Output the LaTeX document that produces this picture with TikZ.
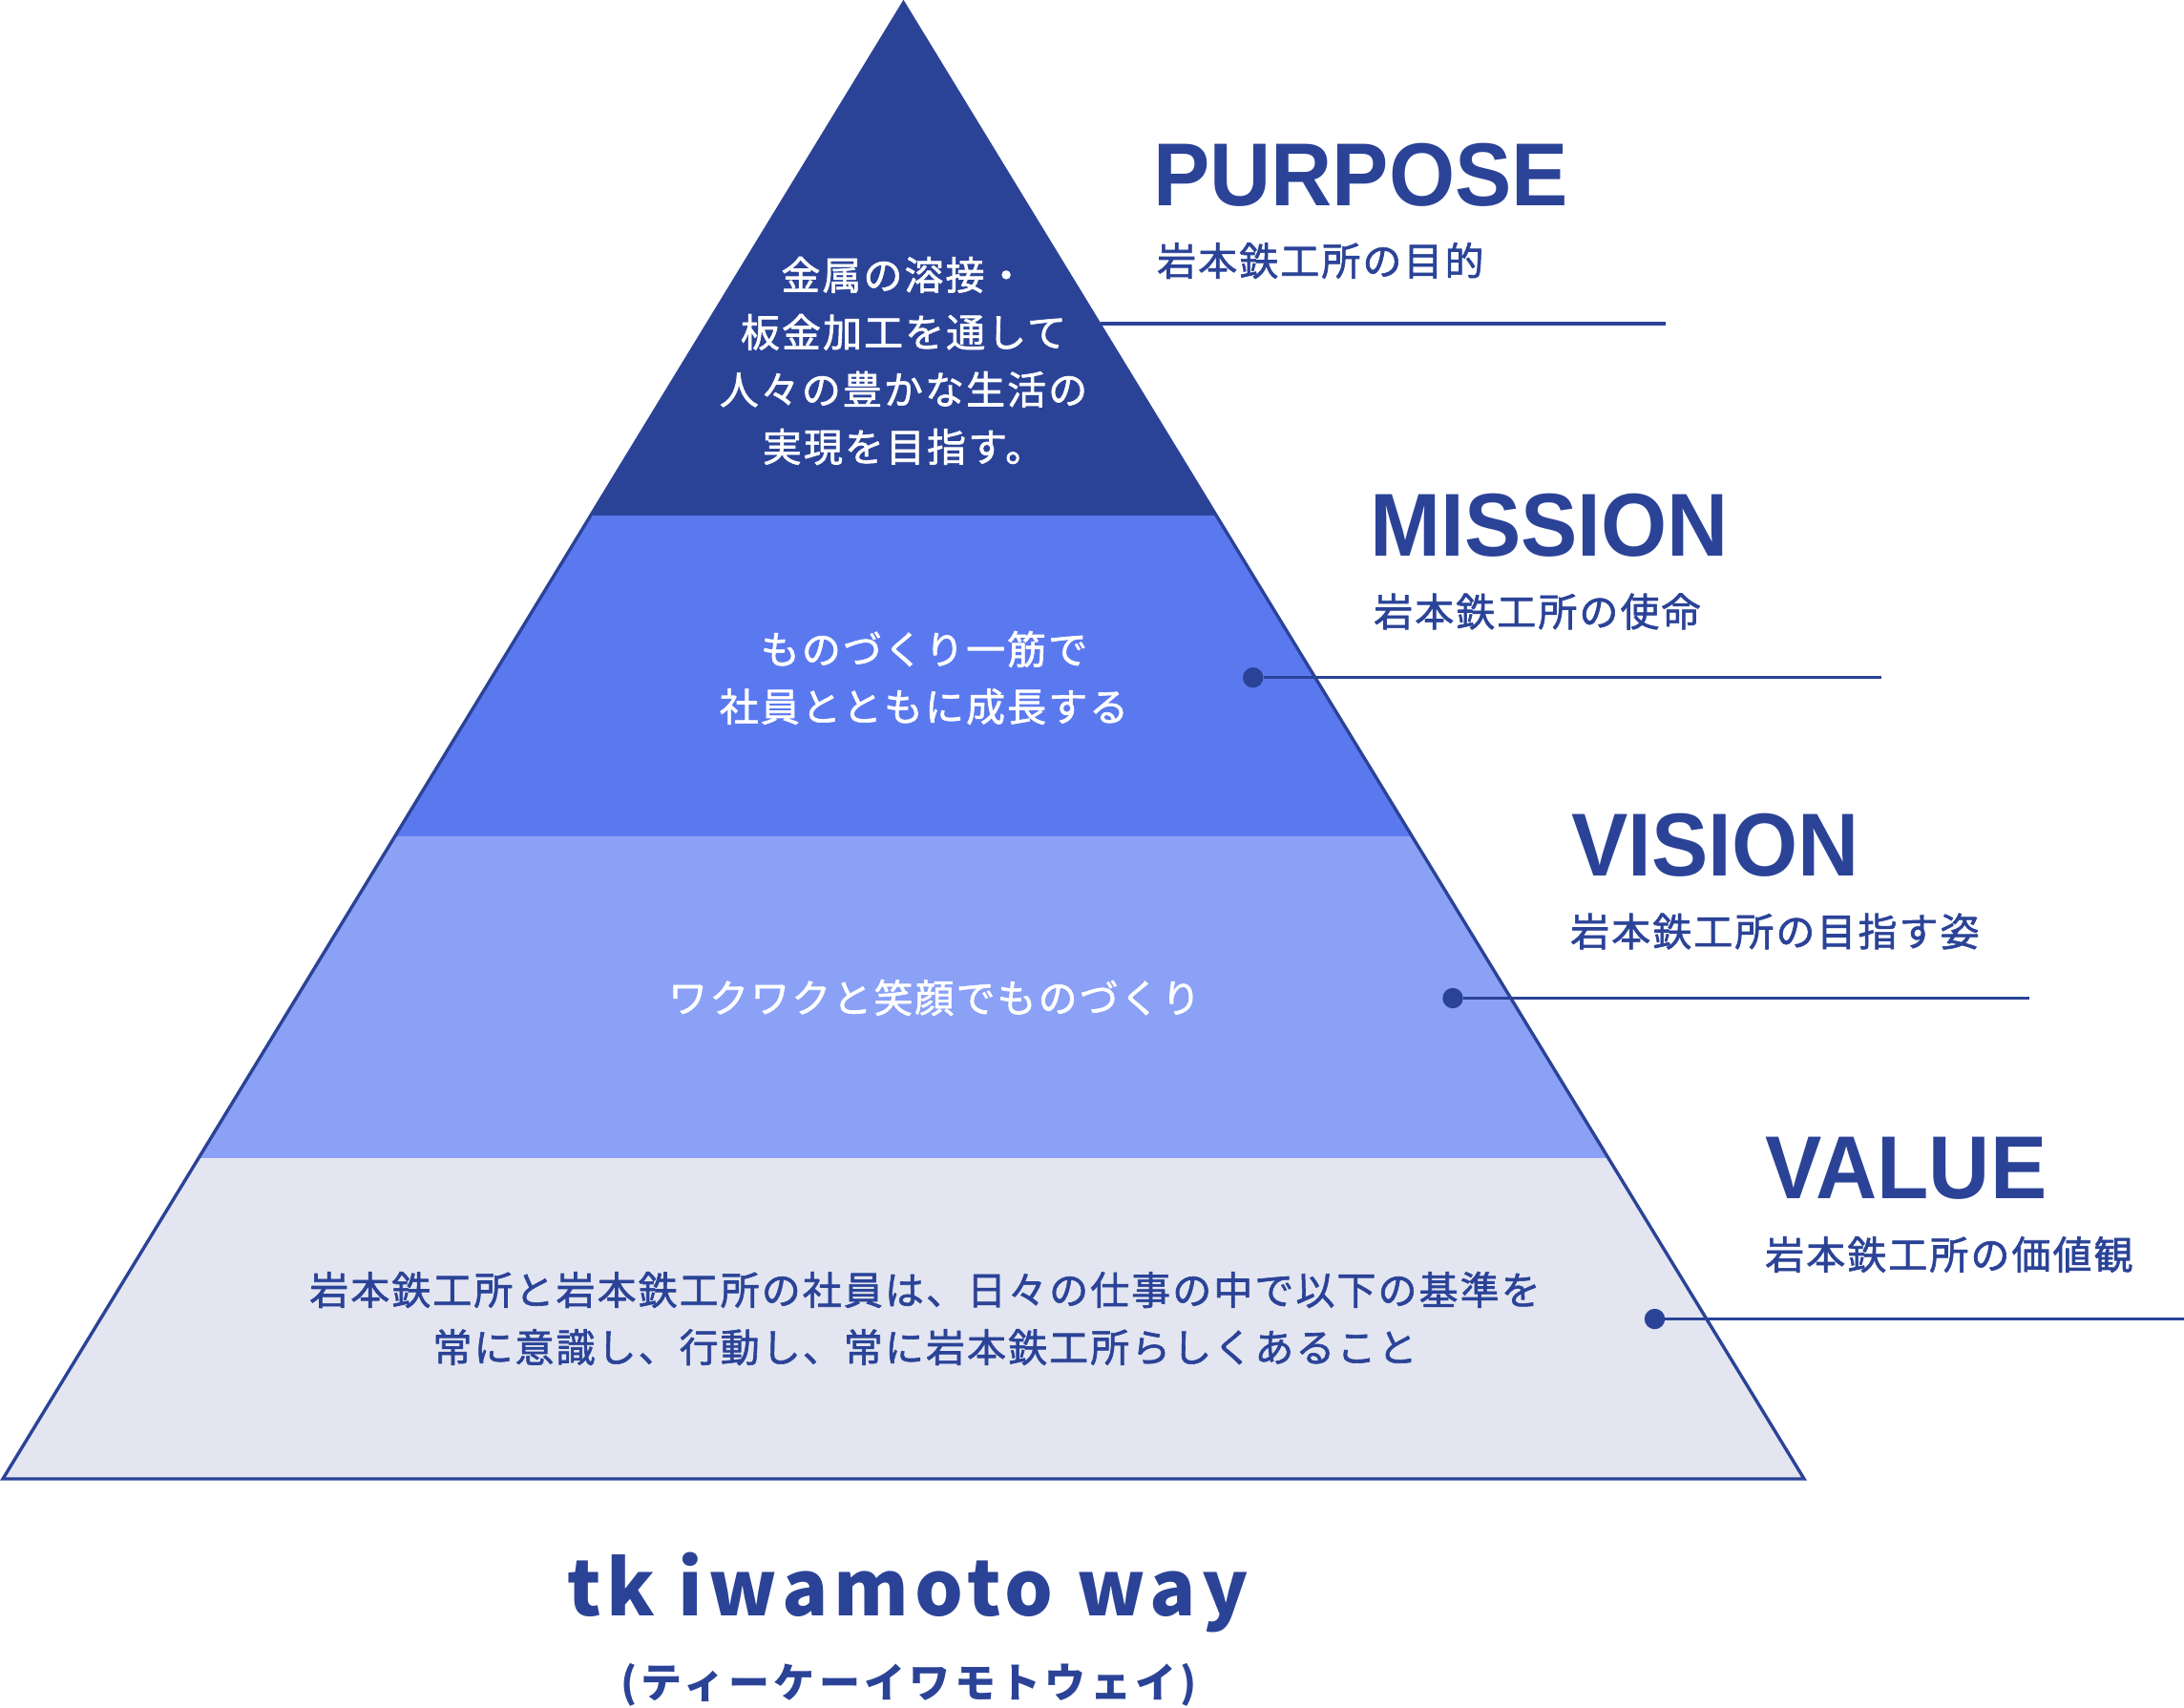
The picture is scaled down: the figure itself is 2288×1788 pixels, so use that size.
\documentclass[tikz,border=0pt]{standalone}
\usepackage{fontspec}
\setmainfont{Liberation Sans}
\newfontfamily\headfont[FakeStretch=0.95]{Liberation Sans}
\newfontfamily\jpfont[LetterSpace=5,FakeBold=1.5]{Noto Sans CJK JP}
\newfontfamily\wayfont[LetterSpace=7.5]{Noto Sans CJK JP}
\newfontfamily\kanafont[LetterSpace=10]{Noto Sans CJK JP}
\definecolor{navy}{RGB}{43,67,151}
\definecolor{midblue}{RGB}{91,121,239}
\definecolor{lightblue}{RGB}{138,161,246}
\definecolor{paleblue}{RGB}{227,230,241}
\begin{document}
\begin{tikzpicture}[x=1pt,y=-1pt,line join=round,line cap=round]
	\tikzset{head/.style={anchor=west,inner sep=0,text=navy,font=\headfont\bfseries\fontsize{93.6}{100}\selectfont},
		sub/.style={anchor=west,inner sep=0,text=navy,font=\jpfont\fontsize{41}{60}\selectfont},
		inner/.style={inner sep=0,align=center,text=white,font=\jpfont\fontsize{41}{60}\selectfont},
		dot/.style={circle,fill=navy,inner sep=0,minimum size=21.4pt},
		lead/.style={navy,line width=3.4pt,line cap=butt}}
	\useasboundingbox (0,0) rectangle (2288,1788);
	\coordinate (apex) at (946.5,3);
	\coordinate (bl) at (3,1549);
	\coordinate (br) at (1890,1549);
	\fill[navy] (apex)--(1274.2,540)--(618.8,540)--cycle;
	\fill[midblue] (618.8,540)--(1274.2,540)--(1479.6,876.5)--(413.4,876.5)--cycle;
	\fill[lightblue] (413.4,876.5)--(1479.6,876.5)--(1685,1213)--(208,1213)--cycle;
	\fill[paleblue] (208,1213)--(1685,1213)--(br)--(bl)--cycle;
	\draw[navy,line width=3.4pt,line join=miter] (apex)--(br)--(bl)--cycle;
	\node[inner] (ptext) at (946.5,378) {金属の溶接・\\板金加工を通して\\人々の豊かな生活の\\実現を目指す。};
	\node[inner] (mtext) at (968,710) {ものづくり一筋で\\社員とともに成長する};
	\node[inner] (vtext) at (979,1045) {ワクワクと笑顔でものづくり};
	\node[inner,text=navy] (vltext) at (969,1381) {岩本鉄工所と岩本鉄工所の社員は、日々の仕事の中で以下の基準を\\常に意識し、行動し、常に岩本鉄工所らしくあること};
	\node[head] (purpose) at (1208,183.5) {PURPOSE};
	\node[sub] (psub) at (1212,273) {岩本鉄工所の目的};
	\node[head] (mission) at (1435,550.5) {MISSION};
	\node[sub] (msub) at (1439,640.5) {岩本鉄工所の使命};
	\node[head] (vision) at (1646,885.5) {VISION};
	\node[sub] (vsub) at (1645,975.5) {岩本鉄工所の目指す姿};
	\node[head] (value) at (1849.5,1223.5) {VALUE};
	\node[sub] (vlsub) at (1849,1314) {岩本鉄工所の価値観};
	\coordinate (pstart) at (1152.5,339);
	\coordinate (pend) at (1745,339);
	\draw[lead] (pstart)--(pend);
	\node[dot] (mdot) at (1312.7,709.7) {};
	\coordinate (mend) at (1971,709.7);
	\draw[lead] (mdot)--(mend);
	\node[dot] (vdot) at (1522,1045.5) {};
	\coordinate (vend) at (2126,1045.5);
	\draw[lead] (vdot)--(vend);
	\node[dot] (vldot) at (1733.5,1381.5) {};
	\coordinate (vlend) at (2288,1381.5);
	\draw[lead] (vldot)--(vlend);
	\node[anchor=base,inner sep=0,text=navy,font=\wayfont\bfseries\fontsize{80}{90}\selectfont] (way) at (951,1692) {tk iwamoto way};
	\node[inner sep=0,text=navy,font=\kanafont\bfseries\fontsize{43}{50}\selectfont] (kana) at (952,1765) {(ティーケーイワモトウェイ)};
\end{tikzpicture}
\end{document}
